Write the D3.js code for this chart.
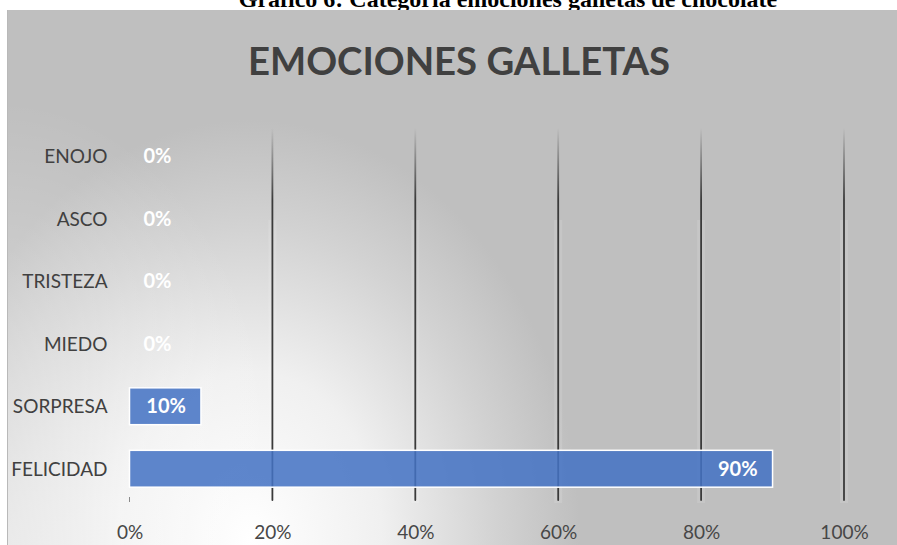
<!DOCTYPE html>
<html lang="es">
<head>
<meta charset="utf-8">
<script src="https://cdn.jsdelivr.net/npm/d3@7"></script>
<style>
  html, body { margin: 0; padding: 0; background: #ffffff; }
  svg { display: block; }
</style>
</head>
<body>
<svg id="chart" width="897" height="545"></svg>
<script>
// Emotions reported for chocolate cookies (share of respondents)
const categories = ["ENOJO", "ASCO", "TRISTEZA", "MIEDO", "SORPRESA", "FELICIDAD"];
const values = [0, 0, 0, 0, 0.10, 0.90];
const tickValues = [0, 0.2, 0.4, 0.6, 0.8, 1.0];

const caption = "Gráfico 6: Categoría emociones galletas de chocolate";
const chartTitle = "EMOCIONES GALLETAS";

const W = 897, H = 545;
const svg = d3.select("#chart");
const defs = svg.append("defs");
const font = "Lato, 'Open Sans', sans-serif";

// Soft radial light spot toward the lower left of the chart area
const bg = defs.append("radialGradient")
  .attr("id", "bgGrad")
  .attr("gradientUnits", "userSpaceOnUse")
  .attr("cx", 0).attr("cy", 0).attr("r", 1)
  .attr("gradientTransform", "translate(250,540) scale(330,420)");
[[0, "#ffffff"], [0.4, "#f0f0f0"], [0.75, "#d2d2d2"], [1, "#bfbfbf"]]
  .forEach(([o, c]) => bg.append("stop").attr("offset", o).attr("stop-color", c));

// Extra light wash along the left edge
const wash = defs.append("radialGradient")
  .attr("id", "washGrad")
  .attr("gradientUnits", "userSpaceOnUse")
  .attr("cx", 0).attr("cy", 0).attr("r", 1)
  .attr("gradientTransform", "translate(0,560) scale(300,460)");
wash.append("stop").attr("offset", 0).attr("stop-color", "#ffffff").attr("stop-opacity", 0.55);
wash.append("stop").attr("offset", 1).attr("stop-color", "#ffffff").attr("stop-opacity", 0);

// Gridlines fade in toward their top end
const gl = defs.append("linearGradient")
  .attr("id", "gridFade")
  .attr("gradientUnits", "userSpaceOnUse")
  .attr("x1", 0).attr("y1", 128).attr("x2", 0).attr("y2", 200);
gl.append("stop").attr("offset", 0).attr("stop-color", "#3a3a3a").attr("stop-opacity", 0);
gl.append("stop").attr("offset", 1).attr("stop-color", "#3a3a3a").attr("stop-opacity", 1);

// Caption above the chart (its top runs off the page)
svg.append("text")
  .attr("x", 508).attr("y", 7)
  .attr("text-anchor", "middle")
  .attr("font-family", "'Liberation Serif', 'Times New Roman', serif")
  .attr("font-weight", "bold")
  .attr("font-size", 24)
  .attr("fill", "#000")
  .text(caption);

// Chart area
svg.append("rect")
  .attr("x", 7).attr("y", 10)
  .attr("width", W - 7).attr("height", H - 10)
  .attr("fill", "url(#bgGrad)");
svg.append("rect")
  .attr("x", 7).attr("y", 10)
  .attr("width", W - 7).attr("height", H - 10)
  .attr("fill", "url(#washGrad)");
svg.append("line")
  .attr("x1", 7.5).attr("x2", 7.5).attr("y1", 10).attr("y2", H)
  .attr("stroke", "#b9b9b9").attr("stroke-width", 1);

// Title
svg.append("text")
  .attr("x", 459).attr("y", 75)
  .attr("text-anchor", "middle")
  .attr("font-family", font)
  .attr("font-weight", "bold")
  .attr("font-size", 39)
  .attr("fill", "#404040")
  .attr("textLength", 422)
  .attr("lengthAdjust", "spacingAndGlyphs")
  .text(chartTitle);

// Scales
const x = d3.scaleLinear().domain([0, 1]).range([129.5, 844]);
const y = d3.scaleBand().domain(categories).range([125, 500])
  .paddingInner(0.41).paddingOuter(0.205);

// Vertical gridlines
const grid = svg.append("g");
tickValues.filter(t => t > 0).forEach(t => {
  grid.append("line")
    .attr("x1", x(t)).attr("x2", x(t)).attr("y1", 220).attr("y2", 503)
    .attr("stroke", "#ffffff").attr("stroke-opacity", 0.12).attr("stroke-width", 8);
  grid.append("line")
    .attr("x1", x(t)).attr("x2", x(t)).attr("y1", 128).attr("y2", 500)
    .attr("stroke", "url(#gridFade)").attr("stroke-width", 1.8)
    .attr("stroke-linecap", "round");
});
// small mark at the zero position
grid.append("line")
  .attr("x1", x(0)).attr("x2", x(0)).attr("y1", 497).attr("y2", 502)
  .attr("stroke", "#8a8a8a").attr("stroke-width", 1);

// Bars
svg.append("g").selectAll("rect")
  .data(categories)
  .join("rect")
  .attr("x", x(0))
  .attr("y", d => y(d))
  .attr("width", (d, i) => x(values[i]) - x(0))
  .attr("height", y.bandwidth())
  .attr("fill", "#4472c4")
  .attr("fill-opacity", 0.86)
  .attr("stroke", "#ffffff")
  .attr("stroke-width", (d, i) => values[i] > 0 ? 1.5 : 0);

// Value labels (inside end; empty bars get them just past the baseline)
const fmt = d3.format(".0%");
svg.append("g").selectAll("text")
  .data(categories)
  .join("text")
  .attr("x", (d, i) => values[i] > 0.05 ? x(values[i]) - 15 : x(0) + 14)
  .attr("y", d => y(d) + y.bandwidth() / 2)
  .attr("dy", "0.36em")
  .attr("text-anchor", (d, i) => values[i] > 0.05 ? "end" : "start")
  .attr("font-family", font)
  .attr("font-weight", "bold")
  .attr("font-size", 20)
  .attr("fill", "#ffffff")
  .text((d, i) => fmt(values[i]));

// Category axis
const yAxis = svg.append("g")
  .attr("transform", `translate(${x(0) - 22},0)`)
  .call(d3.axisLeft(y).tickSize(0).tickPadding(0));
yAxis.select(".domain").remove();
yAxis.selectAll("text")
  .attr("dy", "0.38em")
  .attr("font-family", font)
  .attr("font-size", 19)
  .attr("fill", "#404040");

// Value axis
const xAxis = svg.append("g")
  .attr("transform", "translate(0,532)")
  .call(d3.axisBottom(x).tickValues(tickValues).tickFormat(fmt).tickSize(0).tickPadding(0));
xAxis.select(".domain").remove();
xAxis.selectAll("text")
  .attr("dy", "0.36em")
  .attr("font-family", font)
  .attr("font-size", 19)
  .attr("fill", "#474747");
</script>
</body>
</html>
